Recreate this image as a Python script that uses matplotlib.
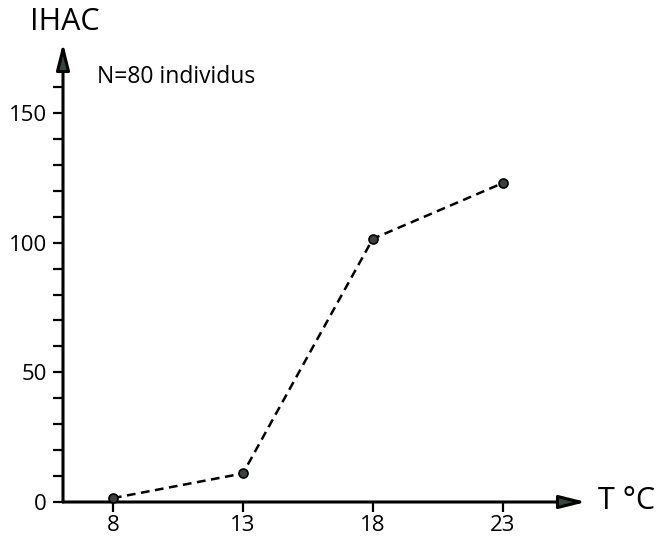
import numpy as np
import matplotlib
matplotlib.use("Agg")
import matplotlib.pyplot as plt

plt.rcParams['font.family'] = ['Open Sans', 'DejaVu Sans']

# data
temps = [8, 13, 18, 23]
ihac = [1.5, 11, 101.5, 123]
xticks = [8, 13, 18, 23]
yticks = [0, 50, 100, 150]

fig = plt.figure(figsize=(6.56, 5.39), dpi=100)
ax = fig.add_axes([63/656, 37/539, (586-63)/656, (502-43)/539])

xmin, xmax = 6.08, 26.2
ymin, ymax = 0, 177
ax.set_xlim(xmin, xmax)
ax.set_ylim(ymin, ymax)

for s in ax.spines.values():
    s.set_visible(False)

head = '#2e4a3c'
arrow = dict(arrowstyle='-|>,head_length=0.8,head_width=0.2', lw=2.2,
             ec='black', fc=head, shrinkA=0, shrinkB=0, mutation_scale=20)
ax.annotate('', xy=(xmin, ymax), xytext=(xmin, ymin), arrowprops=arrow,
            annotation_clip=False)
ax.annotate('', xy=(xmax, ymin), xytext=(xmin, ymin), arrowprops=arrow,
            annotation_clip=False)

ax.plot(temps, ihac, color='black', lw=1.8, dashes=(3.5, 2.2),
        marker='o', ms=6.5, mfc='#3d423f', mec='black', mew=1.2,
        clip_on=False, zorder=5)

ax.set_xticks(xticks)
ax.set_xticklabels([str(t) for t in xticks])
ax.set_yticks(yticks)
ax.set_yticklabels(['0', '50', '100', '150'])
ax.set_yticks([v for v in range(10, 170, 10) if v % 50], minor=True)

ax.tick_params(axis='both', which='both', direction='out', length=7.5,
               width=1.6, color='black', labelsize=16, pad=4)
ax.tick_params(axis='x', pad=2)

fig.text(30/656, 1-22/539, 'IHAC', fontsize=22, va='center', ha='left')
fig.text(97/656, 1-77/539, 'N=80 individus', fontsize=16.5, va='center', ha='left')
fig.text(598/656, 1-501/539, 'T °C', fontsize=22, va='center', ha='left')

fig.savefig('out.png', dpi=100)
